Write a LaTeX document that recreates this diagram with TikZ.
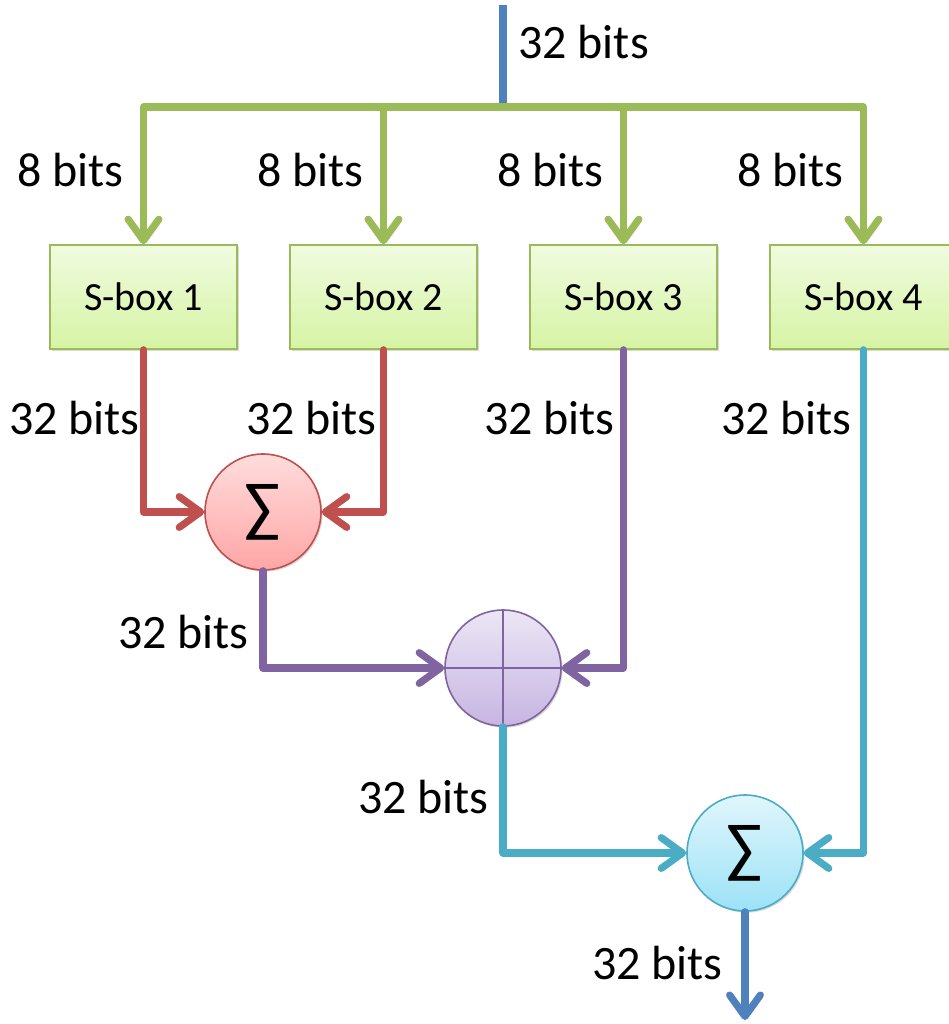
\documentclass[tikz,border=0pt]{standalone}
\usepackage{fontspec}
\setmainfont{Carlito}
\usetikzlibrary{arrows.meta,shadows}
\definecolor{cgreen}{HTML}{9BBB59}
\definecolor{cred}{HTML}{C0504D}
\definecolor{cpurple}{HTML}{8064A2}
\definecolor{ccyan}{HTML}{4BACC6}
\definecolor{cblue}{HTML}{4F81BD}
\definecolor{gtop}{HTML}{F0FBDF}
\definecolor{gbot}{HTML}{D6F4A4}
\definecolor{rtop}{HTML}{FFDCDC}
\definecolor{rbot}{HTML}{FFA6A6}
\definecolor{ptop}{HTML}{ECE6F5}
\definecolor{pbot}{HTML}{C6B5E2}
\definecolor{ctop}{HTML}{E0F6FC}
\definecolor{cbot}{HTML}{9CE2F6}
\tikzset{
  softshadow/.style={drop shadow={shadow xshift=1.2pt,shadow yshift=-1.2pt,opacity=0.25,fill=black!60}},
  sbox/.style={draw=cgreen,line width=1.2pt,minimum width=140.25pt,minimum height=78pt,
    top color=gtop,bottom color=gbot,softshadow,
    font=\fontsize{30}{36}\selectfont,inner sep=0pt},
  opnode/.style={circle,line width=1.2pt,minimum size=87pt,inner sep=0pt,softshadow,
    font=\fontsize{50}{60}\selectfont},
  sumred/.style={opnode,draw=cred,top color=rtop,bottom color=rbot},
  sumcyan/.style={opnode,draw=ccyan,top color=ctop,bottom color=cbot},
  xorbox/.style={opnode,draw=cpurple,top color=ptop,bottom color=pbot},
  wire/.style={line width=5.4pt,line join=round,line cap=round},
  tip/.style={-{Straight Barb[length=16pt,width=23pt,line cap=round,line join=round]}},
  lbl/.style={font=\fontsize{36}{42}\selectfont,inner sep=0pt}
}
\begin{document}
\begin{tikzpicture}[x=0.75pt,y=-0.75pt]
\useasboundingbox (0,0) rectangle (949,1024);

% S-boxes
\node[sbox] (b1) at (143.5,297) {S-box 1};
\node[sbox] (b2) at (383.5,297) {S-box 2};
\node[sbox] (b3) at (623.5,297) {S-box 3};
\node[sbox] (b4) at (863.5,297) {S-box 4};

% combining operators
\node[sumred]  (s1) at (263,512) {∑};
\node[xorbox]  (x1) at (503,668) {};
\node[sumcyan] (s2) at (745,853) {∑};
\draw[cpurple,line width=1.2pt] (x1.north) -- (x1.south) (x1.west) -- (x1.east);

% input word and 8-bit bus
\coordinate (in) at (503,5);
\coordinate (bus) at (503,107);
\coordinate (out) at (745,1020);
\draw[wire,cblue,line cap=butt] (in) -- (bus);
\foreach \b in {b1,b2,b3,b4}
  \draw[wire,cgreen,tip] (bus) -| (\b.north);

% S-box outputs
\draw[wire,cred,tip] (b1.south) |- (s1.west);
\draw[wire,cred,tip] (b2.south) |- (s1.east);
\draw[wire,cpurple,tip] (b3.south) |- (x1.east);
\draw[wire,cpurple,tip] (s1.south) |- (x1.west);
\draw[wire,ccyan,tip] (x1.south) |- (s2.west);
\draw[wire,ccyan,tip] (b4.south) |- (s2.east);
\draw[wire,cblue,tip] (s2.south) -- (out);

% labels
\node[lbl,anchor=west] (l0) at (518,42) {32 bits};
\node[lbl,anchor=east] (l1) at (124,170) {8 bits};
\node[lbl,anchor=east] (l2) at (364,170) {8 bits};
\node[lbl,anchor=east] (l3) at (604,170) {8 bits};
\node[lbl,anchor=east] (l4) at (844,170) {8 bits};
\node[lbl,anchor=east] (l5) at (140,418) {32 bits};
\node[lbl,anchor=east] (l6) at (377,418) {32 bits};
\node[lbl,anchor=east] (l7) at (615,418) {32 bits};
\node[lbl,anchor=east] (l8) at (852,418) {32 bits};
\node[lbl,anchor=east] (l9) at (249,632) {32 bits};
\node[lbl,anchor=east] (l10) at (489,797) {32 bits};
\node[lbl,anchor=east] (l11) at (723,963) {32 bits};
\end{tikzpicture}
\end{document}
